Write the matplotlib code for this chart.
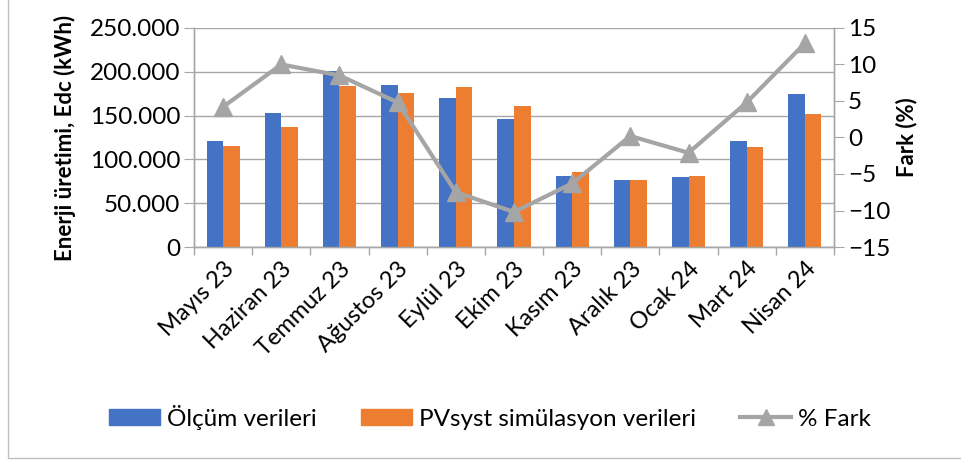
import numpy as np
import matplotlib.pyplot as plt
from matplotlib.patches import Rectangle
from matplotlib.lines import Line2D
from matplotlib.patches import Patch

plt.rcParams['font.family'] = ['Lato', 'DejaVu Sans']

months = ["Mayıs 23", "Haziran 23", "Temmuz 23", "Ağustos 23", "Eylül 23", "Ekim 23",
          "Kasım 23", "Aralık 23", "Ocak 24", "Mart 24", "Nisan 24"]
olcum = [120700, 153000, 200500, 185000, 170100, 146100, 80700, 76500, 79500, 120700, 174700]
pvsyst = [115300, 137000, 183800, 175800, 182300, 161000, 85600, 76100, 81000, 114500, 151800]
fark = [4.2, 10.0, 8.5, 4.8, -7.5, -10.2, -6.3, 0.2, -2.1, 4.8, 12.9]

blue = "#4472c4"
orange = "#ed7d31"
gray = "#a5a5a5"
axis_gray = "#a6a6a6"

fig = plt.figure(figsize=(9.61, 4.61), dpi=100)
ax = fig.add_axes([0.2019, 0.4642, 0.6659, 0.4751])
ax2 = ax.twinx()

x = np.arange(len(months))
w = 0.284
ax.bar(x - w / 2, olcum, w, color=blue, zorder=3)
ax.bar(x + w / 2, pvsyst, w, color=orange, zorder=3)

ax2.plot(x, fark, color=gray, lw=3, marker="^", markersize=13, zorder=4)

ax.set_xlim(-0.5, len(months) - 0.5)
ax.set_ylim(0, 250000)
ax2.set_ylim(-15, 15)
ax.set_yticks(np.arange(0, 250001, 50000))
ax.set_yticklabels([f"{v:,}".replace(",", ".") for v in range(0, 250001, 50000)])
ax2.set_yticks(np.arange(-15, 16, 5))

ax.set_xticks(x)
ax.set_xticklabels(months, rotation=45, ha="right", rotation_mode="anchor", fontsize=17)
ax.set_xticks(np.arange(-0.5, len(months), 1), minor=True)
ax.tick_params(axis="x", which="major", length=0, pad=8)
ax.tick_params(axis="x", which="minor", length=6, color=axis_gray, width=1)

ax.tick_params(axis="y", labelsize=17.5, length=7, color=axis_gray, pad=3)
ax2.tick_params(axis="y", labelsize=17.5, length=7, color=axis_gray, pad=3)

ax.yaxis.grid(True, color=axis_gray, lw=1, zorder=0)
ax.set_axisbelow(True)

for a in (ax, ax2):
    a.spines["top"].set_visible(False)
    for s in ("left", "right", "bottom"):
        a.spines[s].set_color(axis_gray)
        a.spines[s].set_linewidth(1)

ax.set_ylabel("Enerji üretimi, Edc (kWh)", fontsize=16, fontweight="bold", labelpad=10)
ax2.set_ylabel("Fark (%)", fontsize=16, fontweight="bold", labelpad=4)

handles = [Patch(color=blue), Patch(color=orange),
           Line2D([], [], color=gray, lw=3, marker="^", markersize=11)]
fig.legend(handles, ["Ölçüm verileri", "PVsyst simülasyon verileri", "% Fark"],
           loc="center", bbox_to_anchor=(0.51, 1 - 417 / 461), ncol=3, frameon=False,
           fontsize=17.5, handlelength=2.1, handleheight=0.6, columnspacing=1.8,
           handletextpad=0.3)

fig.patches.append(Rectangle((8 / 961, 3 / 461), 1.2, 1.2, transform=fig.transFigure,
                             fill=False, edgecolor="#bfbfbf", lw=1))

fig.savefig("out.png", dpi=100)
